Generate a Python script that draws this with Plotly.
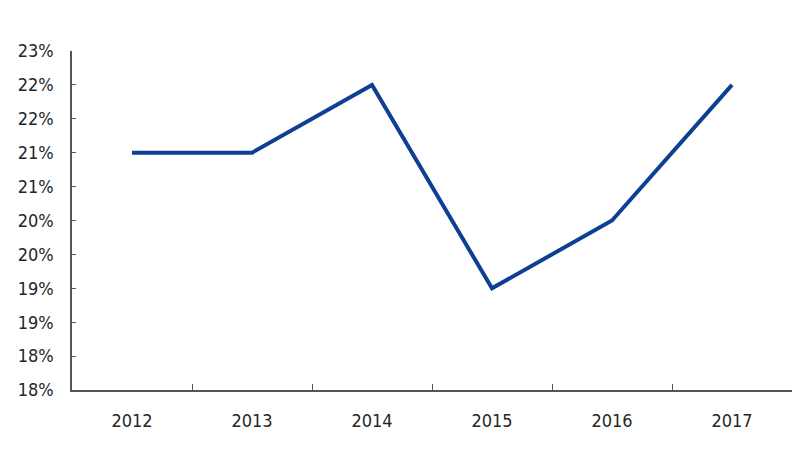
import plotly.graph_objects as go

years = ["2012", "2013", "2014", "2015", "2016", "2017"]
values = [21.5, 21.5, 22.5, 19.5, 20.5, 22.5]
tick_vals = [18.0, 18.5, 19.0, 19.5, 20.0, 20.5, 21.0, 21.5, 22.0, 22.5, 23.0]
tick_text = ["18%", "18%", "19%", "19%", "20%", "20%", "21%", "21%", "22%", "22%", "23%"]

fig = go.Figure()
fig.add_trace(go.Scatter(x=years, y=values, mode="lines",
                         line=dict(color="#0E3F94", width=4)))

font_family = "DejaVu Sans Condensed, sans-serif"
tf = dict(family=font_family, size=18, color="#262626")
fig.update_layout(
    width=792, height=445,
    margin=dict(l=64, r=8, t=43, b=63),
    paper_bgcolor="white", plot_bgcolor="white",
    showlegend=False,
    font=dict(family=font_family, size=16, color="#333333"),
    xaxis=dict(type="category", showgrid=False, showline=True, linecolor="#555555", linewidth=1.5,
               ticks="inside", tickson="boundaries", ticklen=6, tickcolor="#555555",
               tickfont=tf, range=[-0.5, 5.5], ticklabelstandoff=14),
    yaxis=dict(range=[18, 23], tickvals=tick_vals, ticktext=tick_text, showgrid=False,
               showline=True, linecolor="#555555", linewidth=1.5, ticks="inside", ticklen=4,
               tickcolor="#555555", zeroline=False, ticklabelstandoff=13,
               tickfont=tf),
)
fig.write_html("out.html")
